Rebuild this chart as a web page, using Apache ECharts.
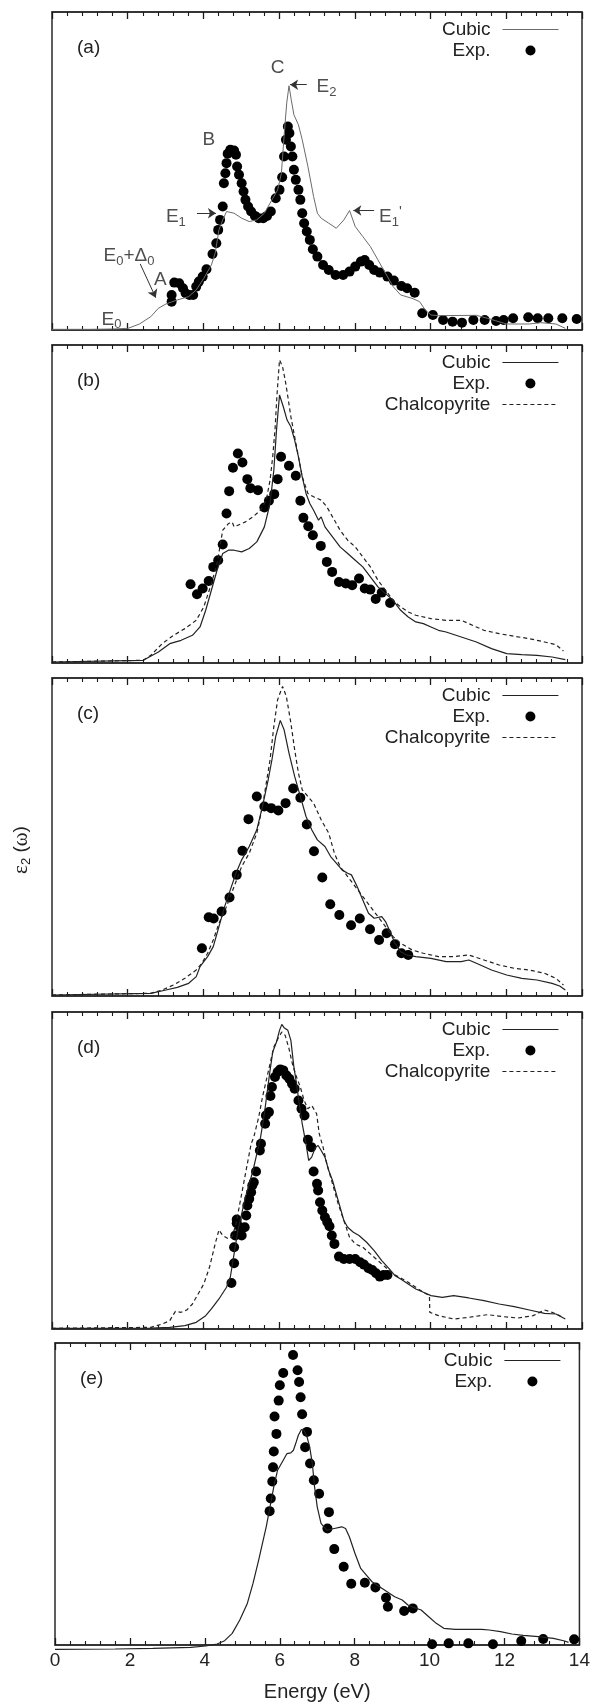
<!DOCTYPE html>
<html>
<head>
<meta charset="utf-8">
<script src="https://cdn.jsdelivr.net/npm/echarts@6/dist/echarts.min.js"></script>
<style>
  html, body { margin: 0; padding: 0; background: #fff; }
  #figure { position: relative; width: 593px; height: 1707px; background: #fff; }
  .layer { position: absolute; left: 0; width: 593px; }
  .frame { z-index: 0; }
  .plot { z-index: 1; }
</style>
</head>
<body>
<div id="figure"></div>
<script>
// Imaginary part of the dielectric function, eps2(omega), versus photon energy (eV).
// Each panel: calculated cubic phase, experiment, and (b-d) the chalcopyrite phase.

const energyMin = 0;
const energyMax = 14;
const energyStep = 2;

// ---- panel (a) ----
const cubicA = [[0,0.2],[1.0,0.2],[1.6,0.3],[2.01,0.5],[2.31,1.8],[2.61,4],[2.81,6.5],[3.01,7.8],[3.31,9],[3.61,10],[3.81,12],[4.01,15.5],[4.21,19.5],[4.31,23],[4.41,30],[4.51,33],[4.61,35.5],[4.81,35],[5.01,33.5],[5.21,32.5],[5.41,33],[5.61,35],[5.81,39],[5.96,42],[6.06,47],[6.13,58],[6.2,68],[6.26,73.2],[6.32,69],[6.39,64.5],[6.51,61.5],[6.61,57],[6.76,49],[6.91,40],[7.01,35],[7.11,33.5],[7.31,32],[7.51,30.5],[7.71,33],[7.86,35.8],[8.01,31],[8.21,28],[8.41,25],[8.61,21],[8.81,17],[9.01,13],[9.21,10.5],[9.51,9.5],[9.71,8.5],[9.86,6],[10.01,4.5],[10.21,4.3],[11.21,4.4],[11.51,3.5],[11.71,2.8],[12.01,1.8],[12.61,1.8],[12.91,2.2],[13.31,1.8],[13.56,0.5]];
const expA = [[3.16,8.5],[3.16,10.5],[3.23,14.2],[3.36,14],[3.46,12.5],[3.53,11],[3.63,10.5],[3.73,10.5],[3.81,13],[3.88,14.5],[3.98,16],[4.08,18.2],[4.24,22.8],[4.34,26],[4.39,30],[4.44,33],[4.51,37],[4.54,44],[4.58,47],[4.61,50],[4.64,52.8],[4.71,54],[4.81,53.8],[4.86,52.5],[4.89,49],[4.94,46.5],[5.01,44],[5.06,41.5],[5.11,39],[5.18,37],[5.26,35.5],[5.36,34.2],[5.46,33.5],[5.58,33.5],[5.68,34.2],[5.78,35.5],[5.91,39.5],[6.01,42],[6.08,45.8],[6.13,52],[6.18,57],[6.23,61],[6.27,59],[6.31,55],[6.35,52],[6.39,48],[6.44,45],[6.51,42],[6.56,39],[6.61,35],[6.66,32],[6.73,29.5],[6.81,27],[6.89,24.2],[7.01,22],[7.16,19.5],[7.31,18],[7.49,16.5],[7.69,16.5],[7.86,17.5],[8.01,19],[8.16,20.5],[8.26,21],[8.38,19.5],[8.51,18],[8.66,17.2],[8.86,16],[9.03,14.8],[9.23,13.2],[9.38,12.5],[9.58,11.2],[9.78,5],[10.06,4.5],[10.33,3],[10.58,2.5],[10.83,2.2],[11.13,3],[11.43,3],[11.73,2.7],[11.93,3],[12.18,3.5],[12.58,3.8],[12.83,3.5],[13.11,3.5],[13.48,3.5],[13.86,3.3]];

// ---- panel (b) ----
const cubicB = [[0,0.3],[2.41,0.8],[2.81,3.3],[3.11,5.8],[3.41,6.8],[3.71,8.3],[3.91,10.8],[4.06,15.8],[4.21,21.8],[4.36,27.8],[4.51,32.8],[4.66,33.8],[4.81,33.8],[5.01,33.3],[5.21,34.3],[5.41,36.3],[5.61,40.8],[5.76,47.8],[5.86,57.8],[5.93,69.8],[6.01,80.3],[6.11,76.8],[6.21,72.8],[6.31,70.8],[6.41,66.8],[6.51,61.8],[6.61,55.8],[6.71,50.8],[6.81,47.8],[6.91,45.8],[7.04,42.8],[7.11,43.8],[7.21,40.8],[7.41,37.8],[7.61,34.8],[7.81,32.8],[8.01,30.8],[8.21,28.8],[8.41,25.8],[8.61,22.8],[8.81,20.8],[9.01,18.8],[9.21,15.8],[9.41,13.8],[9.61,12.3],[9.81,11.8],[10.01,10.8],[10.21,9.8],[10.41,9.3],[10.81,7.8],[11.21,6.3],[11.61,4.3],[12.01,2.8],[12.41,2.5],[12.81,2.3],[13.21,1.8],[13.56,1.0]];
const chalcoB = [[0,0.3],[2.41,0.8],[2.61,2.3],[2.91,5.8],[3.21,8.3],[3.51,10.3],[3.81,12.8],[4.01,16.8],[4.21,23.8],[4.36,29.8],[4.51,39.8],[4.66,41.8],[4.76,42.2],[4.81,40.8],[4.91,41.3],[5.11,42.3],[5.31,43.8],[5.51,45.8],[5.66,48.8],[5.76,54.8],[5.83,61.8],[5.89,69.8],[5.94,79.8],[6.01,90.8],[6.09,88.8],[6.16,84.8],[6.23,79.8],[6.31,73.8],[6.41,67.8],[6.51,61.8],[6.61,55.8],[6.76,50.8],[6.91,49.8],[7.11,48.8],[7.26,46.8],[7.41,43.8],[7.61,39.8],[7.81,36.8],[8.01,34.8],[8.21,31.8],[8.41,28.8],[8.61,24.8],[8.81,21.8],[9.01,18.8],[9.21,16.8],[9.41,15.3],[9.61,14.3],[10.01,13.3],[10.41,12.8],[10.81,12.8],[11.01,11.8],[11.41,9.8],[11.81,8.8],[12.21,8.0],[12.61,7.3],[13.01,6.3],[13.31,5.5],[13.51,3.6]];
const expB = [[3.66,23.6],[3.83,20.6],[3.98,22.3],[4.14,24.6],[4.26,28.8],[4.39,30.8],[4.51,35.5],[4.61,44.8],[4.68,51.5],[4.78,58.5],[4.91,62.8],[5.03,60.1],[5.16,55.1],[5.24,52.4],[5.44,51.8],[5.61,46.6],[5.73,48.6],[5.87,50.6],[5.96,55.1],[6.05,61.8],[6.26,59.1],[6.44,56.1],[6.56,48.6],[6.64,43.5],[6.77,41.0],[6.89,38.3],[7.10,35.1],[7.26,30.3],[7.40,27.3],[7.58,24.3],[7.76,23.8],[7.93,23.3],[8.11,25.3],[8.26,22.3],[8.41,22.0],[8.55,19.2],[8.71,21.1],[8.93,18.0]];

// ---- panel (c) ----
const cubicC = [[0,0.3],[2.61,0.8],[3.01,1.8],[3.31,2.6],[3.61,3.8],[3.81,5.8],[3.91,8.8],[4.01,10.3],[4.11,11.8],[4.26,14.8],[4.41,20.8],[4.56,26.8],[4.71,31.8],[4.86,36.8],[5.01,40.8],[5.21,44.8],[5.41,49.8],[5.56,56.8],[5.71,64.8],[5.81,70.8],[5.91,77.8],[6.03,82.6],[6.13,79.8],[6.26,72.8],[6.41,65.8],[6.56,59.8],[6.71,53.8],[6.86,49.8],[7.01,46.8],[7.21,44.8],[7.36,41.8],[7.51,39.8],[7.66,37.8],[7.81,36.8],[7.91,36.3],[8.06,32.8],[8.21,28.8],[8.36,24.8],[8.51,23.3],[8.71,23.8],[8.81,22.3],[8.91,19.8],[9.06,15.8],[9.21,13.3],[9.36,12.3],[9.61,11.8],[10.01,11.3],[10.41,10.3],[10.81,10.3],[11.01,10.8],[11.21,9.8],[11.61,7.8],[12.01,6.3],[12.41,5.3],[12.81,4.8],[13.21,3.8],[13.41,3.0],[13.56,1.8]];
const chalcoC = [[0,0.3],[2.61,0.8],[2.91,1.8],[3.21,3.3],[3.51,5.3],[3.81,7.8],[3.96,9.8],[4.11,12.8],[4.26,16.8],[4.41,21.8],[4.61,26.8],[4.81,32.8],[5.01,38.8],[5.21,42.8],[5.41,48.8],[5.56,56.8],[5.66,63.8],[5.76,70.8],[5.86,80.8],[5.96,88.8],[6.09,92.8],[6.19,89.8],[6.31,81.8],[6.41,73.8],[6.51,66.8],[6.61,61.8],[6.76,59.8],[6.91,57.8],[7.11,52.8],[7.31,48.8],[7.46,42.8],[7.61,38.8],[7.81,35.8],[8.01,32.8],[8.21,29.8],[8.41,26.8],[8.61,23.8],[8.81,20.8],[9.01,17.8],[9.21,15.8],[9.51,13.8],[9.81,12.8],[10.21,11.8],[10.61,11.8],[11.01,12.3],[11.41,10.8],[11.81,9.3],[12.21,8.3],[12.61,7.8],[13.01,6.8],[13.31,5.3],[13.51,3.3]];
const expC = [[3.96,14.3],[4.14,23.6],[4.27,23.2],[4.48,25.3],[4.69,29.5],[4.88,36.3],[5.03,43.5],[5.19,53.0],[5.41,59.8],[5.61,56.8],[5.79,56.3],[5.98,55.6],[6.17,57.8],[6.37,62.2],[6.56,59.4],[6.73,51.4],[6.92,43.4],[7.14,35.5],[7.35,27.5],[7.59,24.3],[7.90,21.2],[8.13,23.2],[8.40,20.0],[8.64,16.8],[8.84,18.8],[9.06,15.5],[9.23,12.8],[9.41,12.3]];

// ---- panel (d) ----
const cubicD = [[0,0.2],[2.61,0.3],[3.11,0.5],[3.51,1.0],[3.81,2.0],[4.06,4.0],[4.21,6.0],[4.41,9.0],[4.61,12.5],[4.71,15.5],[4.81,22.5],[4.91,29.5],[5.01,34.5],[5.11,39.5],[5.21,43.5],[5.31,47.5],[5.41,52.5],[5.51,57.5],[5.61,64.5],[5.69,71.5],[5.76,77.5],[5.83,83.0],[5.93,86.0],[6.01,89.5],[6.07,91.3],[6.13,90.3],[6.23,89.5],[6.31,86.5],[6.39,78.5],[6.46,73.5],[6.53,67.5],[6.61,61.5],[6.71,55.5],[6.78,50.5],[6.86,51.5],[6.96,54.5],[7.03,55.0],[7.11,53.5],[7.21,51.5],[7.31,47.5],[7.41,44.5],[7.51,40.5],[7.61,36.5],[7.71,32.5],[7.81,30.5],[7.96,29.0],[8.11,28.0],[8.31,26.0],[8.51,23.5],[8.71,20.5],[8.91,18.0],[9.06,16.0],[9.21,15.0],[9.41,13.5],[9.61,12.0],[9.81,11.0],[10.01,10.0],[10.31,9.5],[10.61,10.0],[11.01,9.3],[11.41,8.5],[11.81,7.5],[12.21,6.7],[12.61,5.7],[13.01,4.7],[13.31,4.5],[13.56,3.0]];
const chalcoD = [[0,0.2],[2.61,0.5],[2.91,1.5],[3.11,2.5],[3.26,5.3],[3.41,5.0],[3.56,5.7],[3.71,7.5],[3.86,10.5],[4.01,13.5],[4.16,18.5],[4.31,25.5],[4.41,29.7],[4.51,28.0],[4.66,27.0],[4.76,27.7],[4.86,31.5],[4.96,37.5],[5.06,43.5],[5.16,49.5],[5.26,55.5],[5.33,57.5],[5.46,63.5],[5.56,69.5],[5.66,74.5],[5.76,79.5],[5.86,84.5],[5.99,87.5],[6.07,89.0],[6.16,88.0],[6.26,84.0],[6.36,79.0],[6.46,75.5],[6.56,72.5],[6.66,68.5],[6.76,66.0],[6.86,67.0],[6.91,67.5],[6.99,64.5],[7.06,58.5],[7.16,54.5],[7.26,49.5],[7.41,43.5],[7.56,37.5],[7.71,32.5],[7.86,27.5],[8.01,25.5],[8.21,24.5],[8.41,22.5],[8.61,20.5],[8.81,18.5],[9.01,16.5],[9.21,15.3],[9.41,14.0],[9.61,12.5],[9.81,11.0],[9.97,10.0],[9.98,5.0],[10.21,4.0],[10.61,3.0],[11.01,3.5],[11.51,4.3],[11.91,3.7],[12.31,3.3],[12.71,4.0],[13.01,5.7],[13.21,5.0],[13.41,4.0],[13.51,3.3]];
const expD = [[4.74,13.8],[4.81,19.7],[4.81,24.5],[4.84,28.0],[4.88,31.7],[4.88,32.8],[4.96,30.5],[5.01,28.0],[5.09,30.5],[5.13,34.0],[5.16,37.0],[5.21,39.0],[5.26,41.0],[5.29,43.0],[5.33,44.0],[5.39,47.2],[5.49,53.5],[5.52,55.5],[5.63,61.5],[5.65,64.0],[5.73,65.0],[5.77,69.8],[5.81,72.5],[5.89,75.5],[5.96,77.0],[6.03,77.8],[6.11,77.5],[6.19,76.0],[6.27,75.0],[6.34,73.5],[6.41,72.0],[6.51,68.5],[6.59,66.0],[6.67,64.0],[6.76,56.7],[6.85,54.5],[6.91,47.2],[7.00,43.5],[7.03,41.5],[7.08,38.0],[7.14,35.5],[7.21,33.5],[7.27,32.1],[7.33,30.8],[7.39,28.0],[7.46,25.5],[7.58,21.7],[7.71,21.0],[7.86,21.0],[8.01,21.0],[8.14,20.0],[8.24,19.3],[8.36,18.2],[8.46,17.7],[8.56,16.7],[8.66,15.7],[8.76,16.2],[8.86,16.2]];

// ---- panel (e) ----
const cubicE = [[0,0.2],[1.59,0.3],[2.59,0.5],[3.59,0.8],[3.99,1.2],[4.29,1.8],[4.49,2.8],[4.69,5.0],[4.89,9.0],[5.09,14.0],[5.24,20.0],[5.39,27.0],[5.49,32.0],[5.59,37.0],[5.69,43.0],[5.79,49.0],[5.89,54.0],[6.04,57.0],[6.14,59.0],[6.24,59.2],[6.31,60.0],[6.37,62.0],[6.44,64.5],[6.52,66.2],[6.59,66.0],[6.67,64.0],[6.74,61.0],[6.81,56.0],[6.87,49.0],[6.94,43.0],[7.04,38.0],[7.19,36.0],[7.39,36.5],[7.59,37.0],[7.69,36.5],[7.79,34.0],[7.94,29.0],[8.09,24.5],[8.24,22.5],[8.39,20.5],[8.59,19.0],[8.79,17.5],[8.99,16.0],[9.19,15.0],[9.34,13.5],[9.49,12.8],[9.69,12.0],[9.89,10.0],[10.09,8.0],[10.29,6.5],[10.59,6.2],[10.99,6.2],[11.29,6.2],[11.49,6.0],[11.79,5.5],[12.09,4.8],[12.39,4.4],[12.79,4.0],[13.19,3.5],[13.49,2.7],[13.59,2.3]];
const expE = [[5.68,41.7],[5.71,45.5],[5.75,50.6],[5.77,54.9],[5.79,59.6],[5.86,64.9],[5.81,70.1],[5.92,74.9],[5.95,79.5],[6.04,83.2],[6.30,88.6],[6.42,84.0],[6.46,80.5],[6.50,75.9],[6.54,70.8],[6.67,65.5],[6.62,60.9],[6.75,56.0],[6.85,51.0],[6.99,46.9],[7.25,41.4],[7.21,36.5],[7.39,30.3],[7.64,25.0],[7.84,19.9],[8.20,20.2],[8.48,18.8],[8.76,15.7],[8.81,13.0],[9.24,11.7],[9.47,12.5],[9.98,1.7],[10.42,2.0],[10.94,2.0],[11.59,1.7],[12.34,2.7],[12.92,3.3],[13.74,3.2]];

// Transition labels in panel (a) and the arrows pointing at the features
const labelsA = [
  { at: [5.96, 78.5], text: '{n|C}', align: 'center' },
  { at: [6.99, 72.8], text: '{n|E}{s|2}', align: 'left' },
  { at: [4.14, 57.0], text: '{n|B}', align: 'center' },
  { at: [3.01, 34.0], text: '{n|E}{s|1}', align: 'left' },
  { at: [8.64, 34.0], text: "{n|E}{s|1}{p|'}", align: 'left' },
  { at: [1.36, 22.2], text: '{n|E}{s|0}{n|+Δ}{s|0}', align: 'left' },
  { at: [2.86, 15.0], text: '{n|A}', align: 'center' },
  { at: [1.31, 3.2], text: '{n|E}{s|0}', align: 'left' }
];
const arrowsA = [
  [[6.73, 73.5], [6.29, 73.5]],
  [[3.83, 35.0], [4.33, 35.0]],
  [[8.51, 35.8], [7.96, 35.8]],
  [[2.33, 19.8], [2.74, 9.7]]
];

const FONT = '"Liberation Sans", Arial, Helvetica, sans-serif';
const INK = '#222';
const CHALCO_DASH = [4, 3];

// each panel occupies a vertical strip of the figure
const panels = [
  { tag: '(a)', strip: [0, 338],     box: { left: 52, top: 12, width: 530, height: 318 },   yMax: 95.3, cubic: cubicA, chalco: null,    exp: expA, cubicColor: '#6b6b6b', cubicWidth: 1,   legendRight: 34 },
  { tag: '(b)', strip: [338, 671],   box: { left: 52, top: 345, width: 530, height: 318 },  yMax: 95.3, cubic: cubicB, chalco: chalcoB, exp: expB, cubicColor: INK, cubicWidth: 1.2, legendRight: 34 },
  { tag: '(c)', strip: [671, 1004],  box: { left: 52, top: 678, width: 530, height: 318 },  yMax: 95.3, cubic: cubicC, chalco: chalcoC, exp: expC, cubicColor: INK, cubicWidth: 1.2, legendRight: 34 },
  { tag: '(d)', strip: [1004, 1336], box: { left: 52, top: 1012, width: 530, height: 317 }, yMax: 95.0, cubic: cubicD, chalco: chalcoD, exp: expD, cubicColor: INK, cubicWidth: 1.2, legendRight: 34 },
  { tag: '(e)', strip: [1336, 1707], box: { left: 55, top: 1343, width: 529, height: 307 }, yMax: 92.2, cubic: cubicE, chalco: null,    exp: expE, cubicColor: INK, cubicWidth: 1.2, legendRight: 32 }
];

const richText = {
  n: { fontSize: 19, fontFamily: FONT, color: INK, lineHeight: 24 },
  s: { fontSize: 13, fontFamily: FONT, color: INK, lineHeight: 12, verticalAlign: 'bottom' },
  p: { fontSize: 15, fontFamily: FONT, color: INK, lineHeight: 12, verticalAlign: 'top' }
};

// framed energy axis with inward major/minor ticks
function energyAxis(position, withLabels) {
  const axis = {
    type: 'value', gridIndex: 0, position: position,
    min: energyMin, max: energyMax, interval: energyStep,
    axisLine: { show: true, onZero: false, lineStyle: { color: '#2a2a2a', width: 1.5 } },
    axisTick: { show: true, inside: true, length: 7, lineStyle: { color: '#1a1a1a', width: 1.3 } },
    minorTick: { show: true, splitNumber: 5, length: 4, lineStyle: { color: '#1a1a1a', width: 1.1 } },
    splitLine: { show: false },
    axisLabel: { show: withLabels }
  };
  if (withLabels) {
    axis.axisLabel = { show: true, fontSize: 19, color: INK, margin: 6 };
    axis.name = 'Energy (eV)';
    axis.nameLocation = 'middle';
    axis.nameGap = 37;
    axis.nameTextStyle = { fontSize: 20, color: INK };
  }
  return axis;
}

function layer(cls, strip) {
  const el = document.createElement('div');
  el.className = 'layer ' + cls;
  el.style.top = strip[0] + 'px';
  el.style.height = (strip[1] - strip[0]) + 'px';
  document.getElementById('figure').appendChild(el);
  return el;
}

panels.forEach((p, i) => {
  const last = i === panels.length - 1;
  const y0 = p.strip[0];
  const gridBox = { left: p.box.left, top: p.box.top - y0, width: p.box.width, height: p.box.height };

  // frame layer: border, ticks, tick labels and axis titles
  const frame = {
    animation: false,
    textStyle: { fontFamily: FONT },
    grid: Object.assign({ show: true, borderColor: '#2a2a2a', borderWidth: 1.5 }, gridBox),
    xAxis: [energyAxis('bottom', last), energyAxis('top', false)],
    yAxis: { type: 'value', min: 0, max: p.yMax, show: false }
  };
  if (i === 2) {
    frame.graphic = [{
      type: 'text', x: 21, y: 850 - y0, rotation: Math.PI / 2,
      style: {
        text: '{e|ε}{s|2}{t| (}{e|ω}{t|)}',
        align: 'center', verticalAlign: 'middle',
        rich: {
          e: { fontFamily: '"Liberation Serif", "DejaVu Serif", serif', fontSize: 21, fill: INK, lineHeight: 24 },
          s: { fontFamily: FONT, fontSize: 13, fill: INK, lineHeight: 12, verticalAlign: 'bottom' },
          t: { fontFamily: FONT, fontSize: 19, fill: INK, lineHeight: 24 }
        }
      }
    }];
  }
  echarts.init(layer('frame', p.strip)).setOption(frame);

  // plot layer: curves, points, legend, panel tag and annotations on the same scales
  const series = [{
    type: 'line', name: 'Cubic', data: p.cubic, symbol: 'none',
    lineStyle: { color: p.cubicColor, width: p.cubicWidth }
  }];
  if (p.chalco) {
    series.push({
      type: 'line', name: 'Chalcopyrite', data: p.chalco, symbol: 'none',
      lineStyle: { color: INK, width: 1.2, type: CHALCO_DASH }
    });
  }
  series.push({
    type: 'scatter', name: 'Exp.', data: p.exp, symbol: 'circle', symbolSize: 10,
    itemStyle: { color: '#000', opacity: 1 }
  });
  if (i === 0) {
    series.push({
      type: 'scatter', name: 'labels', symbol: 'circle', symbolSize: 1,
      itemStyle: { color: 'transparent' }, z: 5,
      data: labelsA.map(l => ({
        value: l.at,
        label: { show: true, position: 'inside', formatter: l.text, align: l.align, verticalAlign: 'middle', rich: richText }
      })),
      markLine: {
        silent: true, symbol: ['none', 'arrow'], symbolSize: 8,
        lineStyle: { color: '#333', width: 1, type: 'solid' },
        label: { show: false },
        data: arrowsA.map(a => [{ coord: a[0] }, { coord: a[1] }])
      }
    });
  }

  const items = [
    { name: 'Cubic', itemStyle: { opacity: 0 }, lineStyle: { color: p.cubicColor, width: p.cubicWidth } },
    { name: 'Exp.', itemStyle: { color: '#000', opacity: 1 } }
  ];
  if (p.chalco) {
    items.push({ name: 'Chalcopyrite', itemStyle: { opacity: 0 }, lineStyle: { color: INK, width: 1.2, type: CHALCO_DASH } });
  }

  const plot = {
    animation: false,
    grid: Object.assign({ show: false }, gridBox),
    xAxis: { type: 'value', min: energyMin, max: energyMax, show: false },
    yAxis: { type: 'value', min: 0, max: p.yMax, show: false },
    series: series,
    legend: {
      data: items, orient: 'vertical', align: 'right',
      right: p.legendRight, top: p.box.top - y0 + 8, padding: 0,
      itemWidth: 56, itemHeight: 10, itemGap: 2, selectedMode: false,
      textStyle: { fontSize: 19, color: INK, fontFamily: FONT, padding: [0, 7, 0, 0] }
    },
    title: {
      text: p.tag, left: p.box.left + 25, top: p.box.top - y0 + 26, padding: 0,
      textStyle: { fontSize: 19, fontWeight: 'normal', color: INK, fontFamily: FONT }
    }
  };
  echarts.init(layer('plot', p.strip)).setOption(plot);
});
</script>
</body>
</html>
